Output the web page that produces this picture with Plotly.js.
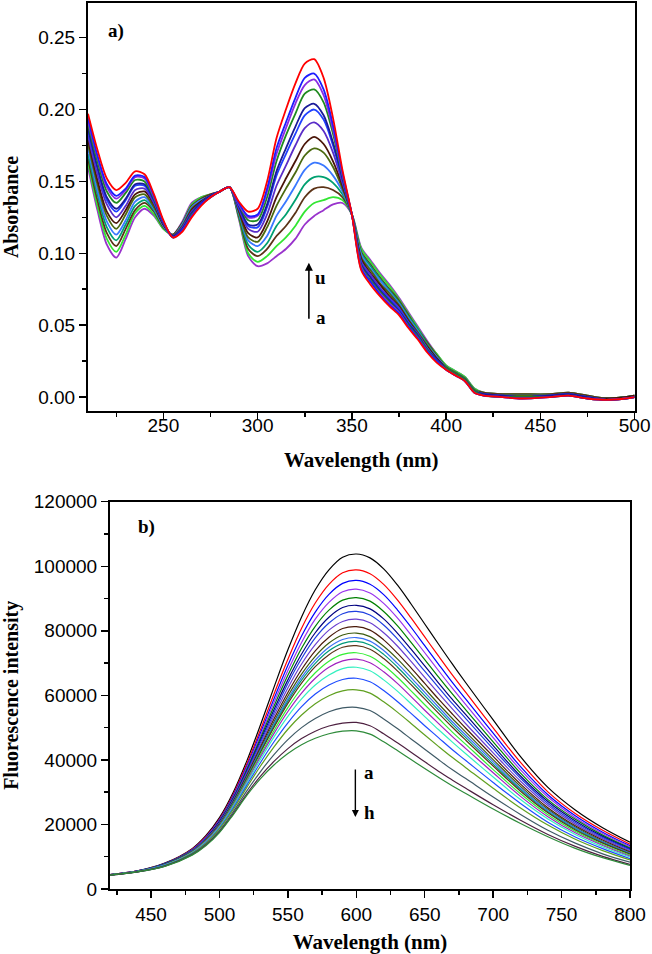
<!DOCTYPE html>
<html>
<head>
<meta charset="utf-8">
<script src="https://cdn.plot.ly/plotly-3.0.1.min.js"></script>
<style>html,body{margin:0;padding:0;background:#fff;}#chart{width:652px;height:954px;}</style>
</head>
<body>
<div id="chart"></div>
<script>
// ---------- Panel a: UV-vis absorbance ----------
const absWavelength = [210,215,220,225,230,235,240,245,250,255,260,265,270,275,280,285,290,295,300,305,310,315,320,325,330,335,340,345,350,355,360,365,370,375,380,385,390,395,400,405,410,415,420,430,440,455,465,475,485,495,500];
const absCurve01 = [0.160,0.130,0.106,0.097,0.110,0.125,0.131,0.126,0.117,0.113,0.122,0.135,0.139,0.141,0.143,0.146,0.124,0.098,0.091,0.093,0.098,0.103,0.110,0.120,0.126,0.130,0.134,0.135,0.127,0.104,0.095,0.086,0.078,0.069,0.059,0.049,0.039,0.030,0.022,0.018,0.014,0.006,0.003,0.002,0.002,0.002,0.003,0.001,-0.001,0.000,0.001];
const absCurve02 = [0.163,0.133,0.110,0.101,0.113,0.128,0.133,0.127,0.117,0.113,0.121,0.134,0.139,0.141,0.143,0.146,0.125,0.100,0.094,0.098,0.105,0.111,0.119,0.129,0.135,0.137,0.139,0.137,0.127,0.103,0.094,0.085,0.077,0.068,0.058,0.048,0.038,0.030,0.022,0.018,0.014,0.006,0.003,0.002,0.002,0.002,0.003,0.001,-0.001,0.000,0.001];
const absCurve03 = [0.166,0.137,0.114,0.105,0.117,0.130,0.135,0.129,0.118,0.113,0.121,0.133,0.138,0.141,0.143,0.146,0.126,0.103,0.098,0.103,0.112,0.119,0.128,0.139,0.145,0.146,0.144,0.139,0.127,0.101,0.092,0.083,0.075,0.067,0.057,0.047,0.038,0.029,0.021,0.017,0.013,0.005,0.003,0.002,0.002,0.002,0.003,0.001,-0.001,0.000,0.001];
const absCurve04 = [0.169,0.141,0.118,0.109,0.120,0.133,0.137,0.130,0.119,0.112,0.120,0.132,0.137,0.140,0.143,0.146,0.127,0.106,0.101,0.107,0.119,0.127,0.137,0.148,0.153,0.153,0.149,0.141,0.127,0.100,0.091,0.082,0.074,0.066,0.056,0.047,0.037,0.028,0.021,0.017,0.013,0.005,0.002,0.001,0.001,0.001,0.002,0.000,-0.001,0.000,0.001];
const absCurve05 = [0.173,0.144,0.122,0.113,0.123,0.136,0.139,0.131,0.119,0.112,0.120,0.132,0.137,0.140,0.143,0.146,0.128,0.109,0.105,0.112,0.126,0.136,0.147,0.158,0.163,0.161,0.154,0.143,0.127,0.099,0.089,0.081,0.073,0.065,0.055,0.046,0.036,0.028,0.021,0.017,0.013,0.005,0.002,0.001,0.001,0.001,0.002,0.000,-0.001,0.000,0.001];
const absCurve06 = [0.176,0.148,0.126,0.117,0.127,0.139,0.141,0.132,0.120,0.112,0.119,0.131,0.136,0.140,0.143,0.146,0.129,0.111,0.108,0.118,0.133,0.145,0.156,0.168,0.173,0.170,0.160,0.145,0.127,0.097,0.088,0.079,0.072,0.064,0.054,0.045,0.036,0.027,0.021,0.017,0.013,0.005,0.002,0.001,0.001,0.001,0.002,0.000,-0.001,0.000,0.001];
const absCurve07 = [0.179,0.151,0.129,0.121,0.130,0.141,0.143,0.134,0.120,0.112,0.118,0.130,0.136,0.140,0.143,0.146,0.130,0.114,0.111,0.122,0.139,0.152,0.164,0.176,0.181,0.176,0.164,0.147,0.127,0.096,0.086,0.078,0.070,0.063,0.053,0.044,0.035,0.027,0.020,0.016,0.012,0.004,0.002,0.001,0.000,0.001,0.002,0.000,-0.001,0.000,0.001];
const absCurve08 = [0.182,0.155,0.134,0.125,0.133,0.144,0.145,0.135,0.121,0.112,0.118,0.129,0.135,0.140,0.143,0.146,0.131,0.117,0.115,0.127,0.147,0.161,0.175,0.187,0.191,0.185,0.170,0.149,0.127,0.094,0.085,0.076,0.069,0.062,0.052,0.044,0.034,0.026,0.020,0.016,0.012,0.004,0.002,0.001,0.000,0.001,0.002,0.000,-0.002,-0.001,0.000];
const absCurve09 = [0.185,0.159,0.137,0.129,0.137,0.147,0.147,0.136,0.121,0.112,0.117,0.128,0.135,0.140,0.143,0.146,0.132,0.119,0.118,0.132,0.154,0.169,0.183,0.196,0.200,0.193,0.175,0.151,0.127,0.093,0.083,0.075,0.068,0.061,0.052,0.043,0.034,0.026,0.020,0.016,0.012,0.004,0.002,0.001,0.000,0.001,0.002,0.000,-0.002,-0.001,0.000];
const absCurve10 = [0.187,0.160,0.139,0.131,0.138,0.148,0.148,0.137,0.121,0.112,0.117,0.128,0.135,0.140,0.143,0.146,0.133,0.120,0.120,0.134,0.157,0.173,0.188,0.201,0.204,0.196,0.177,0.152,0.127,0.092,0.083,0.074,0.067,0.060,0.051,0.043,0.033,0.026,0.020,0.016,0.012,0.004,0.002,0.001,0.000,0.001,0.002,0.000,-0.002,-0.001,0.000];
const absCurve11 = [0.190,0.164,0.143,0.135,0.142,0.151,0.150,0.138,0.122,0.111,0.116,0.127,0.134,0.139,0.143,0.146,0.134,0.123,0.123,0.139,0.164,0.182,0.197,0.211,0.214,0.205,0.183,0.154,0.127,0.091,0.081,0.073,0.066,0.059,0.050,0.042,0.033,0.025,0.020,0.016,0.012,0.004,0.001,0.000,0.000,0.000,0.001,-0.001,-0.002,-0.001,0.000];
const absCurve12 = [0.192,0.167,0.146,0.138,0.144,0.153,0.152,0.139,0.122,0.111,0.116,0.126,0.134,0.139,0.143,0.146,0.134,0.125,0.126,0.143,0.169,0.187,0.204,0.217,0.221,0.210,0.186,0.155,0.127,0.090,0.080,0.072,0.065,0.059,0.049,0.041,0.032,0.025,0.019,0.015,0.011,0.003,0.001,0.000,-0.001,0.000,0.001,-0.001,-0.002,-0.001,0.000];
const absCurve13 = [0.194,0.168,0.148,0.140,0.145,0.154,0.153,0.140,0.122,0.111,0.116,0.126,0.134,0.139,0.143,0.146,0.135,0.126,0.127,0.145,0.173,0.191,0.208,0.222,0.225,0.214,0.189,0.156,0.127,0.089,0.080,0.071,0.064,0.058,0.049,0.041,0.032,0.025,0.019,0.015,0.011,0.003,0.001,0.000,-0.001,0.000,0.001,-0.001,-0.002,-0.001,0.000];
const absCurve14 = [0.197,0.172,0.152,0.144,0.149,0.157,0.155,0.141,0.123,0.111,0.115,0.125,0.133,0.139,0.143,0.146,0.136,0.129,0.131,0.150,0.180,0.200,0.218,0.232,0.235,0.222,0.194,0.158,0.127,0.088,0.078,0.070,0.063,0.057,0.048,0.040,0.031,0.024,0.019,0.015,0.011,0.003,0.001,0.000,-0.001,0.000,0.001,-0.001,-0.002,-0.001,0.000];
const absSeries = [absCurve01,absCurve02,absCurve03,absCurve04,absCurve05,absCurve06,absCurve07,absCurve08,absCurve09,absCurve10,absCurve11,absCurve12,absCurve13,absCurve14];
const absColors = ['#9933cc','#33e633','#5c3317','#00a070','#3a78ff','#4b6a10','#4a1508','#5a2dc8','#2040ff','#1a1a99','#1f8a1f','#8a2be2','#1c1cff','#ff0000'];
const absTickVals = [0,0.05,0.10,0.15,0.20,0.25];
const absTickText = ['0.00','0.05','0.10','0.15','0.20','0.25'];
const absXTicks = [250,300,350,400,450,500];

// ---------- Panel b: fluorescence ----------
const fluWavelength = [420,440,460,480,490,500,510,520,530,540,550,560,570,580,590,600,610,620,630,640,650,660,670,680,700,720,740,760,780,800];
const fluCurve01 = [4500,5600,8000,12500,16500,22100,29900,39700,50900,62700,74100,84300,92700,98900,102800,103800,102600,99200,94200,88300,82100,75900,69800,63900,52400,41000,31500,24500,19000,14500];
const fluCurve02 = [4500,5600,7900,12300,16200,21700,29300,38800,49400,60600,71200,80800,88600,94400,98000,98900,97700,94400,89600,84000,78100,72200,66400,60900,49900,39200,30100,23400,18200,13900];
const fluCurve03 = [4500,5600,7900,12200,16000,21400,28900,38100,48400,59100,69300,78400,85800,91300,94700,95600,94400,91200,86500,81100,75400,69700,64100,58800,48300,37900,29200,22700,17600,13400];
const fluCurve04 = [4500,5500,7800,12100,15900,21200,28500,37600,47600,57900,67700,76400,83600,88800,92100,92900,91700,88500,84000,78700,73200,67700,62300,57100,46900,36900,28500,22100,17200,13100];
const fluCurve05 = [4500,5500,7800,12000,15700,21000,28200,37100,46800,56800,66200,74600,81400,86400,89500,90300,89200,86000,81600,76400,71100,65700,60500,55500,45600,35900,27700,21600,16700,12700];
const fluCurve06 = [4400,5500,7700,11900,15600,20800,27900,36600,46100,55700,64800,72800,79400,84200,87200,87900,86800,83700,79300,74300,69100,63900,58800,54000,44400,35000,27100,21100,16300,12400];
const fluCurve07 = [4400,5500,7700,11900,15500,20600,27700,36200,45500,54800,63700,71400,77800,82400,85300,86000,84900,81800,77500,72600,67500,62500,57500,52800,43400,34300,26500,20600,16000,12200];
const fluCurve08 = [4400,5500,7600,11800,15400,20400,27400,35800,44700,53800,62300,69700,75700,80200,82900,83600,82500,79400,75300,70500,65600,60700,55900,51200,42200,33400,25900,20100,15600,11800];
const fluCurve09 = [4400,5500,7600,11700,15200,20200,27100,35300,44000,52800,60900,68000,73800,78000,80700,81300,80200,77200,73100,68500,63700,58900,54300,49800,41100,32500,25200,19600,15200,11500];
const fluCurve10 = [4400,5500,7600,11600,15100,20000,26800,34900,43400,51900,59800,66600,72100,76200,78700,79300,78200,75200,71300,66800,62100,57400,52900,48600,40100,31800,24700,19200,14800,11300];
const fluCurve11 = [4400,5500,7500,11600,15000,19900,26600,34600,43000,51300,58900,65600,70900,74900,77300,77900,76800,73900,69900,65500,60900,56400,51900,47700,39400,31200,24300,18900,14600,11100];
const fluCurve12 = [4400,5500,7500,11500,15000,19800,26500,34400,42600,50700,58200,64700,69900,73800,76100,76700,75600,72700,68800,64400,59900,55500,51100,46900,38700,30800,23900,18600,14400,10900];
const fluCurve13 = [4400,5400,7500,11500,14900,19700,26300,34200,42300,50200,57500,63800,68900,72600,74900,75400,74300,71400,67600,63300,58900,54500,50200,46100,38100,30300,23600,18300,14200,10800];
const fluCurve14 = [4400,5400,7400,11400,14800,19500,26100,33700,41600,49200,56200,62200,67000,70600,72700,73200,72100,69300,65600,61400,57100,52900,48700,44800,37000,29500,23000,17900,13800,10500];
const fluCurve15 = [4400,5400,7400,11300,14700,19400,25800,33300,41000,48300,55000,60700,65300,68700,70700,71200,70100,67300,63700,59600,55400,51300,47300,43500,36000,28700,22400,17400,13500,10200];
const fluCurve16 = [4400,5400,7400,11200,14500,19200,25500,32800,40200,47200,53500,58900,63200,66300,68300,68700,67600,64800,61300,57400,53400,49400,45600,41900,34700,27700,21700,16900,13000,9900];
const fluCurve17 = [4400,5400,7300,11100,14300,18900,25100,32200,39200,45700,51500,56500,60400,63200,64900,65300,64200,61500,58100,54400,50600,46900,43200,39800,33000,26500,20700,16100,12500,9400];
const fluCurve18 = [4400,5400,7200,11000,14100,18600,24600,31500,38100,44100,49500,53900,57400,59900,61400,61700,60700,58000,54800,51300,47700,44200,40800,37600,31200,25100,19800,15400,11900,9000];
const fluCurve19 = [4300,5300,7100,10800,13800,18100,23900,30400,36400,41700,46300,50000,52800,54900,56100,56300,55300,52700,49700,46500,43300,40100,37000,34200,28500,23100,18200,14200,10900,8300];
const fluCurve20 = [4300,5300,7100,10600,13600,17700,23300,29500,35000,39600,43500,46600,48900,50500,51400,51600,50600,48100,45300,42400,39400,36500,33800,31200,26100,21300,16900,13200,10100,7600];
const fluCurve21 = [4300,5300,7000,10500,13400,17500,23000,29000,34200,38500,42000,44700,46700,48100,48900,49000,48000,45600,42900,40100,37300,34600,32000,29600,24800,20300,16200,12600,9700,7300];
const fluSeries = [fluCurve01,fluCurve02,fluCurve03,fluCurve04,fluCurve05,fluCurve06,fluCurve07,fluCurve08,fluCurve09,fluCurve10,fluCurve11,fluCurve12,fluCurve13,fluCurve14,fluCurve15,fluCurve16,fluCurve17,fluCurve18,fluCurve19,fluCurve20,fluCurve21];
const fluColors = ['#000000','#ff0000','#0000ff','#9933ee','#008000','#000080','#1f3fe0','#6a3fd0','#4a1a0a','#3d5c10','#3a6ff5','#00997a','#5c3317','#33ee33','#a020c0','#33f0c0','#1e4cff','#60a020','#3f5a66','#4d2040','#2e8b3a'];
const fluYTicks = [0,20000,40000,60000,80000,100000,120000];
const fluXTicks = [450,500,550,600,650,700,750,800];

const traces = [];
absSeries.forEach((s, i) => traces.push({
  x: absWavelength, y: s, type: 'scatter', mode: 'lines', xaxis: 'x', yaxis: 'y',
  line: {color: absColors[i], width: 1.8, shape: 'spline', smoothing: 0.8}, hoverinfo: 'skip'
}));
fluSeries.forEach((s, i) => traces.push({
  x: fluWavelength, y: s, type: 'scatter', mode: 'lines', xaxis: 'x2', yaxis: 'y2',
  line: {color: fluColors[i], width: 1.2, shape: 'spline', smoothing: 1}, hoverinfo: 'skip'
}));

const tickFont = {family: 'Liberation Sans, Arial, sans-serif', size: 19, color: '#000'};
const titleFont = {family: 'Liberation Serif, Times New Roman, serif', size: 21, color: '#000', weight: 'bold'};
const yTitleFont = {family: 'Liberation Serif, Times New Roman, serif', size: 20, color: '#000', weight: 'bold'};
const lblFont = {family: 'Liberation Serif, Times New Roman, serif', size: 19, color: '#000', weight: 'bold'};
const axisBase = {
  showline: true, linecolor: '#000', linewidth: 2, mirror: true,
  ticks: 'outside', ticklen: 7, tickwidth: 1.5, tickcolor: '#000',
  showgrid: false, zeroline: false, tickfont: tickFont, automargin: false
};

const W = 652, H = 954;
const mL = 88, mR = 17, mT = 3, mB = 65;
const gw = W - mL - mR, gh = H - mT - mB;

const layout = {
  width: W, height: H, showlegend: false,
  paper_bgcolor: '#fff', plot_bgcolor: '#fff',
  margin: {l: mL, r: mR, t: mT, b: mB},
  xaxis: Object.assign({}, axisBase, {
    domain: [0, (634.6 - mL) / gw], range: [210, 500], anchor: 'y',
    tickvals: absXTicks, ticklabelstandoff: -11,
    minor: {dtick: 25, tick0: 0, ticks: 'outside', ticklen: 4, tickwidth: 1.5, tickcolor: '#000'},
    title: {text: 'Wavelength (nm)', font: titleFont, standoff: 18}
  }),
  yaxis: Object.assign({}, axisBase, {
    domain: [(mT + gh - 411) / gh, 1], range: [-0.0097, 0.2741], anchor: 'x',
    tickvals: absTickVals, ticktext: absTickText,
    minor: {dtick: 0.025, tick0: 0, ticks: 'outside', ticklen: 4, tickwidth: 1.5, tickcolor: '#000'},
    title: {text: 'Absorbance', font: yTitleFont, standoff: 16}
  }),
  xaxis2: Object.assign({}, axisBase, {
    domain: [(110 - mL) / gw, (630 - mL) / gw], range: [420, 800], anchor: 'y2',
    tickvals: fluXTicks,
    minor: {dtick: 25, tick0: 0, ticks: 'outside', ticklen: 4, tickwidth: 1.5, tickcolor: '#000'},
    title: {text: 'Wavelength (nm)', font: titleFont, standoff: 14}
  }),
  yaxis2: Object.assign({}, axisBase, {
    domain: [0, (mT + gh - 501.7) / gh], range: [0, 120000], anchor: 'x2',
    tickvals: fluYTicks, tickformat: 'd',
    minor: {dtick: 10000, tick0: 0, ticks: 'outside', ticklen: 4, tickwidth: 1.5, tickcolor: '#000'},
    title: {text: 'Fluorescence intensity', font: yTitleFont, standoff: 10}
  }),
  annotations: [
    {xref: 'x', yref: 'y', x: 225, y: 0.2545, text: 'a)', showarrow: false, font: lblFont},
    {xref: 'x', yref: 'y', x: 327.2, y: 0.0935, ax: 327.2, ay: 0.0535, axref: 'x', ayref: 'y',
     text: '', showarrow: true, arrowhead: 2, arrowsize: 1, arrowwidth: 1.6, arrowcolor: '#000'},
    {xref: 'x', yref: 'y', x: 333.6, y: 0.0834, text: 'u', showarrow: false, font: lblFont},
    {xref: 'x', yref: 'y', x: 333.6, y: 0.0556, text: 'a', showarrow: false, font: lblFont},
    {xref: 'x2', yref: 'y2', x: 446.4, y: 112200, text: 'b)', showarrow: false, font: lblFont},
    {xref: 'x2', yref: 'y2', x: 599.3, y: 22300, ax: 599.3, ay: 37500, axref: 'x2', ayref: 'y2',
     text: '', showarrow: true, arrowhead: 2, arrowsize: 1, arrowwidth: 1.4, arrowcolor: '#000'},
    {xref: 'x2', yref: 'y2', x: 609.6, y: 36000, text: 'a', showarrow: false, font: lblFont},
    {xref: 'x2', yref: 'y2', x: 609.6, y: 23600, text: 'h', showarrow: false, font: lblFont}
  ]
};

Plotly.newPlot('chart', traces, layout, {staticPlot: true, displayModeBar: false});
</script>
</body>
</html>
